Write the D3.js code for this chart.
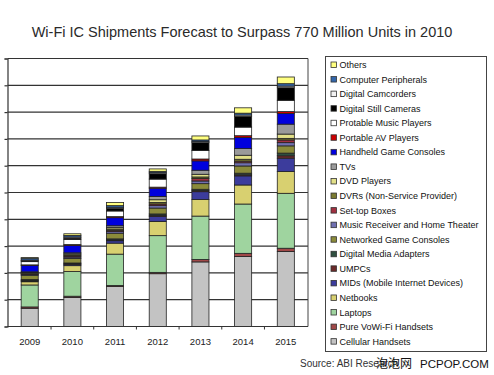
<!DOCTYPE html>
<html>
<head>
<meta charset="utf-8">
<script src="https://cdn.jsdelivr.net/npm/d3@7"></script>
<style>
  body { margin: 0; background: #fff; }
  svg { font-family: "Liberation Sans", Arial, sans-serif; }
</style>
</head>
<body>
<script>
// categories
const years = ['2009', '2010', '2011', '2012', '2013', '2014', '2015'];

// series, bottom of the stack first
const seriesNames = [
  'Cellular Handsets', 'Pure VoWi-Fi Handsets', 'Laptops', 'Netbooks',
  'MIDs (Mobile Internet Devices)', 'UMPCs', 'Digital Media Adapters',
  'Networked Game Consoles', 'Music Receiver and Home Theater', 'Set-top Boxes',
  'DVRs (Non-Service Provider)', 'DVD Players', 'TVs', 'Handheld Game Consoles',
  'Portable AV Players', 'Protable Music Players', 'Digital Still Cameras',
  'Digital Camcorders', 'Computer Peripherals', 'Others'
];
const seriesColors = [
  '#c3c3c3', '#a04848', '#9fd49f', '#d8d070',
  '#3c3c9c', '#6b2a2a', '#2f4f3f',
  '#8b8b3a', '#7070b0', '#a03040',
  '#7a7a30', '#e2e088', '#9a9a9a', '#0000dd',
  '#cc0000', '#ffffff', '#000000',
  '#f2f2f2', '#3366aa', '#ffff80'
];

// million units per year, same order as seriesNames
const v2009 = [68, 5, 82, 12, 3, 2, 3, 16, 3, 2, 2, 3, 3, 24, 2, 12, 4, 2, 7, 2];
const v2010 = [108, 5, 92, 22, 5, 2, 3, 17, 5, 4, 4, 4, 4, 27, 4, 19, 5, 4, 6, 6];
const v2011 = [149, 4, 117, 41, 9, 3, 4, 21, 6, 5, 5, 6, 6, 30, 4, 21, 10, 4, 6, 12];
const v2012 = [197, 5, 137, 53, 19, 4, 5, 22, 9, 6, 6, 10, 12, 31, 4, 30, 20, 4, 5, 9];
const v2013 = [241, 9, 162, 62, 29, 4, 5, 21, 10, 9, 6, 10, 15, 35, 7, 32, 29, 4, 6, 15];
const v2014 = [261, 12, 184, 71, 34, 4, 6, 27, 12, 6, 7, 15, 25, 41, 7, 32, 40, 5, 7, 20];
const v2015 = [280, 12, 205, 81, 50, 9, 10, 27, 12, 10, 6, 16, 37, 40, 7, 42, 47, 6, 9, 25];

const yearValues = [v2009, v2010, v2011, v2012, v2013, v2014, v2015];
const gridTicks = [0, 100, 200, 300, 400, 500, 600, 700, 800, 900, 1000];

const width = 494, height = 375;
const plotLeft = 7.5, plotRight = 308, plotTop = 58.5, plotBottom = 326.5;

const table = years.map((yr, i) => {
  const row = {year: yr};
  seriesNames.forEach((s, j) => row[s] = yearValues[i][j]);
  return row;
});

const svg = d3.select('body').append('svg')
  .attr('width', width)
  .attr('height', height);

svg.append('text')
  .attr('x', 242).attr('y', 37)
  .attr('text-anchor', 'middle')
  .attr('font-size', 14.5)
  .attr('fill', '#2a2a2a')
  .text('Wi-Fi IC Shipments Forecast to Surpass 770 Million Units in 2010');

const x = d3.scaleBand()
  .domain(years)
  .range([plotLeft, plotRight])
  .paddingInner(0.6)
  .paddingOuter(0.32);

const y = d3.scaleLinear()
  .domain([0, 1000])
  .range([plotBottom, plotTop]);

// gridlines
svg.append('g')
  .selectAll('line')
  .data(gridTicks)
  .join('line')
  .attr('x1', plotLeft).attr('x2', plotRight)
  .attr('y1', d => y(d)).attr('y2', d => y(d))
  .attr('stroke', '#333')
  .attr('stroke-width', 1.2);

// right frame
svg.append('line')
  .attr('x1', plotRight).attr('x2', plotRight)
  .attr('y1', plotTop).attr('y2', plotBottom)
  .attr('stroke', '#444').attr('stroke-width', 1);

// left axis, ticks only
const yAxis = svg.append('g')
  .attr('transform', `translate(${plotLeft},0)`)
  .call(d3.axisLeft(y).tickValues(gridTicks).tickSize(3).tickFormat(''));
yAxis.selectAll('path, line').attr('stroke', '#333').attr('stroke-width', 1.2);

// bars
const stacked = d3.stack().keys(seriesNames)(table);

svg.append('g')
  .selectAll('g')
  .data(stacked)
  .join('g')
  .attr('fill', (d, i) => seriesColors[i])
  .selectAll('rect')
  .data(d => d)
  .join('rect')
  .attr('x', d => x(d.data.year))
  .attr('width', x.bandwidth())
  .attr('y', d => y(d[1]))
  .attr('height', d => y(d[0]) - y(d[1]))
  .attr('stroke', '#222')
  .attr('stroke-width', 0.8);

// bottom axis with ticks between the categories
const xAxisG = svg.append('g')
  .attr('transform', `translate(0,${plotBottom})`);
xAxisG.append('line')
  .attr('x1', plotLeft).attr('x2', plotRight)
  .attr('stroke', '#333').attr('stroke-width', 1.2);
xAxisG.selectAll('.sep')
  .data(years.slice(1))
  .join('line')
  .attr('class', 'sep')
  .attr('x1', d => x(d) - x.step() * x.paddingInner() / 2)
  .attr('x2', d => x(d) - x.step() * x.paddingInner() / 2)
  .attr('y1', 0).attr('y2', 3)
  .attr('stroke', '#333');
xAxisG.selectAll('.lbl')
  .data(years)
  .join('text')
  .attr('class', 'lbl')
  .attr('x', d => x(d) + x.bandwidth() / 2)
  .attr('y', 18)
  .attr('text-anchor', 'middle')
  .attr('font-size', 9.5)
  .attr('fill', '#222')
  .text(d => d);

// legend
const legend = svg.append('g');
legend.append('rect')
  .attr('x', 325.5).attr('y', 56.5)
  .attr('width', 161).attr('height', 295)
  .attr('fill', '#fff')
  .attr('stroke', '#444');

const legendOrder = seriesNames.map((s, i) => i).reverse();
const item = legend.selectAll('.item')
  .data(legendOrder)
  .join('g')
  .attr('class', 'item')
  .attr('transform', (d, k) => `translate(331,${65 + k * 14.56})`);
item.append('rect')
  .attr('x', 0).attr('y', -3)
  .attr('width', 5.5).attr('height', 5.5)
  .attr('fill', i => seriesColors[i])
  .attr('stroke', '#333')
  .attr('stroke-width', 0.8);
item.append('text')
  .attr('x', 8.5).attr('y', 3)
  .attr('font-size', 9)
  .attr('fill', '#111')
  .text(i => seriesNames[i]);

// source line, partly covered by the site watermark as in the original
svg.append('text')
  .attr('x', 300).attr('y', 367)
  .attr('font-size', 10)
  .attr('fill', '#333')
  .text('Source: ABI Research');
svg.append('text')
  .attr('x', 376).attr('y', 368)
  .attr('font-size', 12)
  .attr('font-family', '"Noto Sans CJK SC", sans-serif')
  .attr('fill', '#111')
  .text('泡泡网');
svg.append('text')
  .attr('x', 420).attr('y', 368)
  .attr('font-size', 11.5)
  .attr('fill', '#111')
  .text('PCPOP.COM');
</script>
</body>
</html>
